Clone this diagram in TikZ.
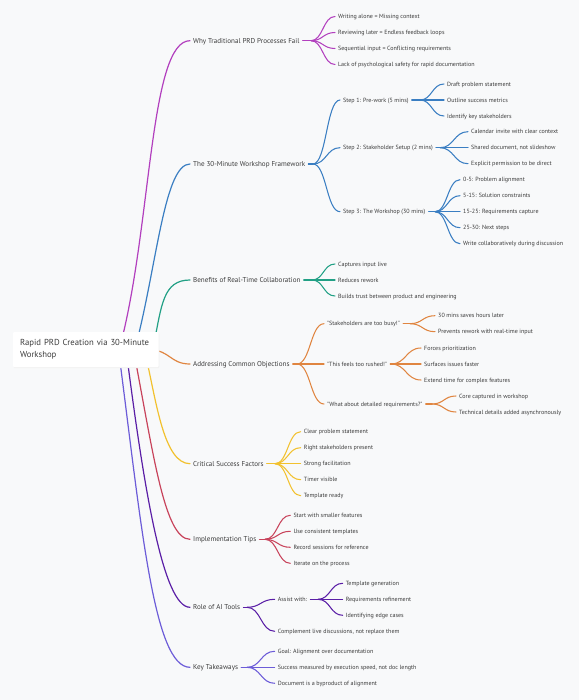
\documentclass[tikz,border=0pt]{standalone}
\usepackage{fontspec}
\newfontfamily\ptsans{PT Sans}
\usetikzlibrary{calc}
\definecolor{bg}{HTML}{F8F9FA}
\definecolor{cA}{HTML}{B23FBE}
\definecolor{cB}{HTML}{3A7EC2}
\definecolor{cC}{HTML}{22A085}
\definecolor{cD}{HTML}{E08540}
\definecolor{cE}{HTML}{F2C12E}
\definecolor{cF}{HTML}{C8435B}
\definecolor{cG}{HTML}{5A1EA6}
\definecolor{cH}{HTML}{6C5CD8}
\definecolor{tx}{HTML}{3C3C3C}
\newcommand\mlink[3]{\draw[#1] let \p1=(#2), \p2=(#3) in (\p1) .. controls ({(\x1+\x2)/2},\y1) and ({(\x1+\x2)/2},\y2) .. (\p2);}
\begin{document}
\begin{tikzpicture}[x=1pt,y=-1pt,
  mainnode/.style={anchor=west, inner xsep=3pt, inner ysep=0pt, font=\ptsans\fontsize{7.1}{8.5}\selectfont, text=tx, text height=5.2pt, text depth=0.2pt},
  leaf/.style={anchor=west, inner xsep=3pt, inner ysep=0pt, font=\ptsans\fontsize{6.05}{7.5}\selectfont, text=tx, text height=4.4pt, text depth=0.2pt},
  rootnode/.style={rectangle, rounded corners=1pt, fill=white, minimum width=145.5pt, minimum height=35pt, inner xsep=7pt, align=left, text width=131.5pt, font=\ptsans\fontsize{8.7}{11.5}\selectfont, text=tx},
  mline/.style={line width=1.2pt, line cap=round},
  sline/.style={line width=1.05pt, line cap=round}]
\fill[bg] (0,0) rectangle (579,700);
\useasboundingbox (0,0) rectangle (579,700);

% main branch nodes
\node[mainnode] (b1) at (190,40.7) {Why Traditional PRD Processes Fail};
\node[mainnode] (b2) at (190,164) {The 30-Minute Workshop Framework};
\node[mainnode] (b3) at (190,280) {Benefits of Real-Time Collaboration};
\node[mainnode] (b4) at (190,364) {Addressing Common Objections};
\node[mainnode] (b5) at (190,463.7) {Critical Success Factors};
\node[mainnode] (b6) at (190,539.3) {Implementation Tips};
\node[mainnode] (b7) at (190,607.3) {Role of AI Tools};
\node[mainnode] (b8) at (190,667.3) {Key Takeaways};

% branch 1
\node[leaf] (a11) at (335,16.5) {Writing alone = Missing context};
\node[leaf] (a12) at (335,32.5) {Reviewing later = Endless feedback loops};
\node[leaf] (a13) at (335,48.5) {Sequential input = Conflicting requirements};
\node[leaf] (a14) at (335,64.5) {Lack of psychological safety for rapid documentation};
% branch 2
\node[leaf] (s21) at (340,100) {Step 1: Pre-work (5 mins)};
\node[leaf] (s22) at (340,147.7) {Step 2: Stakeholder Setup (2 mins)};
\node[leaf] (s23) at (340,211.7) {Step 3: The Workshop (30 mins)};
\node[leaf] (a211) at (444,84) {Draft problem statement};
\node[leaf] (a212) at (444,100) {Outline success metrics};
\node[leaf] (a213) at (444,116) {Identify key stakeholders};
\node[leaf] (a221) at (468,131.7) {Calendar invite with clear context};
\node[leaf] (a222) at (468,147.7) {Shared document, not slideshow};
\node[leaf] (a223) at (468,163.7) {Explicit permission to be direct};
\node[leaf] (a231) at (460,179.7) {0-5: Problem alignment};
\node[leaf] (a232) at (460,195.7) {5-15: Solution constraints};
\node[leaf] (a233) at (460,211.7) {15-25: Requirements capture};
\node[leaf] (a234) at (460,227.7) {25-30: Next steps};
\node[leaf] (a235) at (460,243.7) {Write collaboratively during discussion};
% branch 3
\node[leaf] (a31) at (335,264) {Captures input live};
\node[leaf] (a32) at (335,280) {Reduces rework};
\node[leaf] (a33) at (335,296) {Builds trust between product and engineering};
% branch 4
\node[leaf] (s41) at (324,323.7) {"Stakeholders are too busy!"};
\node[leaf] (s42) at (324,364) {"This feels too rushed!"};
\node[leaf] (s43) at (324,404) {"What about detailed requirements?"};
\node[leaf] (a411) at (435,315.7) {30 mins saves hours later};
\node[leaf] (a412) at (435,331.7) {Prevents rework with real-time input};
\node[leaf] (a421) at (421,348) {Forces prioritization};
\node[leaf] (a422) at (421,364) {Surfaces issues faster};
\node[leaf] (a423) at (421,380) {Extend time for complex features};
\node[leaf] (a431) at (456,396) {Core captured in workshop};
\node[leaf] (a432) at (456,412) {Technical details added asynchronously};
% branch 5
\node[leaf] (a51) at (300.7,431.7) {Clear problem statement};
\node[leaf] (a52) at (300.7,447.7) {Right stakeholders present};
\node[leaf] (a53) at (300.7,463.7) {Strong facilitation};
\node[leaf] (a54) at (300.7,479.7) {Timer visible};
\node[leaf] (a55) at (300.7,495.7) {Template ready};
% branch 6
\node[leaf] (a61) at (290.3,515.3) {Start with smaller features};
\node[leaf] (a62) at (290.3,531.3) {Use consistent templates};
\node[leaf] (a63) at (290.3,547.3) {Record sessions for reference};
\node[leaf] (a64) at (290.3,563.3) {Iterate on the process};
% branch 7
\node[leaf] (s71) at (274.7,599.3) {Assist with:};
\node[leaf] (a72) at (274.7,631.3) {Complement live discussions, not replace them};
\node[leaf] (a711) at (342.7,583.3) {Template generation};
\node[leaf] (a712) at (342.7,599.3) {Requirements refinement};
\node[leaf] (a713) at (342.7,615.3) {Identifying edge cases};
% branch 8
\node[leaf] (a81) at (274.7,651.3) {Goal: Alignment over documentation};
\node[leaf] (a82) at (274.7,667.3) {Success measured by execution speed, not doc length};
\node[leaf] (a83) at (274.7,683.3) {Document is a byproduct of alignment};

% hubs
\coordinate (h1) at (311,40.7);
\coordinate (h2) at (313,164);
\coordinate (h3) at (312,280);
\coordinate (h4) at (297,364);
\coordinate (h5) at (275,463.7);
\coordinate (h6) at (265,539.3);
\coordinate (h7) at (247,607.3);
\coordinate (h8) at (247,667.3);
\coordinate (h21) at (420,100);
\coordinate (h22) at (440,147.7);
\coordinate (h23) at (435,211.7);
\coordinate (h41) at (410,323.7);
\coordinate (h42) at (391,364);
\coordinate (h43) at (432,404);
\coordinate (h71) at (318,599.3);

% root curve starts
\coordinate (r1) at (121.7,340);
\coordinate (r2) at (137.3,340);
\coordinate (r3) at (153.7,345);
\coordinate (r4) at (150,350);
\coordinate (r5) at (146,357);
\coordinate (r6) at (134.8,357);
\coordinate (r7) at (127,357);
\coordinate (r8) at (119.4,357);

% main curves
\draw[mline,cA] (r1) .. controls (151.7,220) and (150,40.7) .. (b1.west);
\draw[mline,cB] (r2) .. controls (157.3,260) and (165,164) .. (b2.west);
\draw[mline,cC] (r3) .. controls (161.7,305) and (163,280) .. (b3.west);
\mlink{mline,cD}{r4}{b4.west}
\draw[mline,cE] (r5) .. controls (156.4,402) and (164,463.7) .. (b5.west);
\draw[mline,cF] (r6) .. controls (153.8,457) and (165,539.3) .. (b6.west);
\draw[mline,cG] (r7) .. controls (143.9,487) and (163,607.3) .. (b7.west);
\draw[mline,cH] (r8) .. controls (141.5,527) and (154,667.3) .. (b8.west);

% branch 1
\draw[sline,cA] (b1.east) -- (h1);
\foreach \c in {a11,a12,a13,a14} {\mlink{sline,cA}{h1}{\c.west}}
% branch 2
\draw[sline,cB] (b2.east) -- (h2);
\foreach \c in {s21,s22,s23} {\mlink{sline,cB}{h2}{\c.west}}
\draw[sline,cB] (s21.east) -- (h21);
\foreach \c in {a211,a212,a213} {\mlink{sline,cB}{h21}{\c.west}}
\draw[sline,cB] (s22.east) -- (h22);
\foreach \c in {a221,a222,a223} {\mlink{sline,cB}{h22}{\c.west}}
\draw[sline,cB] (s23.east) -- (h23);
\foreach \c in {a231,a232,a233,a234,a235} {\mlink{sline,cB}{h23}{\c.west}}
% branch 3
\draw[sline,cC] (b3.east) -- (h3);
\foreach \c in {a31,a32,a33} {\mlink{sline,cC}{h3}{\c.west}}
% branch 4
\draw[sline,cD] (b4.east) -- (h4);
\foreach \c in {s41,s42,s43} {\mlink{sline,cD}{h4}{\c.west}}
\draw[sline,cD] (s41.east) -- (h41);
\foreach \c in {a411,a412} {\mlink{sline,cD}{h41}{\c.west}}
\draw[sline,cD] (s42.east) -- (h42);
\foreach \c in {a421,a422,a423} {\mlink{sline,cD}{h42}{\c.west}}
\draw[sline,cD] (s43.east) -- (h43);
\foreach \c in {a431,a432} {\mlink{sline,cD}{h43}{\c.west}}
% branch 5
\draw[sline,cE] (b5.east) -- (h5);
\foreach \c in {a51,a52,a53,a54,a55} {\mlink{sline,cE}{h5}{\c.west}}
% branch 6
\draw[sline,cF] (b6.east) -- (h6);
\foreach \c in {a61,a62,a63,a64} {\mlink{sline,cF}{h6}{\c.west}}
% branch 7
\draw[sline,cG] (b7.east) -- (h7);
\foreach \c in {s71,a72} {\mlink{sline,cG}{h7}{\c.west}}
\draw[sline,cG] (s71.east) -- (h71);
\foreach \c in {a711,a712,a713} {\mlink{sline,cG}{h71}{\c.west}}
% branch 8
\draw[sline,cH] (b8.east) -- (h8);
\foreach \c in {a81,a82,a83} {\mlink{sline,cH}{h8}{\c.west}}

% root
\fill[black!5, rounded corners=1pt] (13.6,333) rectangle (159.4,368);
\node[rootnode] (root) at (85.75,349.5) {Rapid PRD Creation via 30-Minute\\Workshop};
\end{tikzpicture}
\end{document}
